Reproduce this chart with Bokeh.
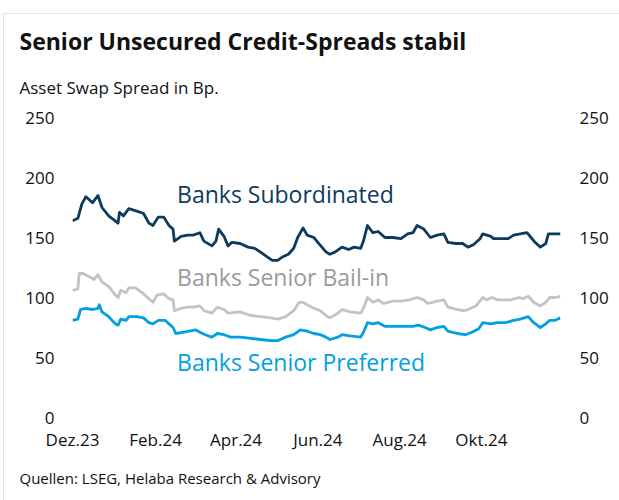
import pandas as pd
from bokeh.plotting import figure
from bokeh.models import Range1d, LinearAxis, FixedTicker, Label, Title
from bokeh.embed import file_html
from bokeh.resources import INLINE

# ---------------- data ----------------
start_date = "2023-12-01"
end_date = "2024-11-29"

sub_days = [0, 4, 7, 10, 15, 19, 22, 27, 34, 35, 38, 42, 48, 53, 57, 60, 64, 68, 72, 75,
            76, 81, 86, 90, 95, 98, 104, 107, 109, 113, 116, 119, 125, 131, 136, 140, 145, 149, 153, 157,
            161, 165, 168, 172, 175, 180, 183, 189, 192, 196, 201, 206, 210, 215, 217, 220, 224, 228, 233, 239,
            245, 250, 254, 257, 262, 267, 272, 277, 280, 286, 291, 295, 299, 304, 306, 312, 314, 319, 325, 329,
            334, 339, 342, 345, 349, 353, 355, 359, 364]
sub_vals = [164, 166, 178, 184, 179, 185, 175, 168, 162, 171, 168, 174, 172, 170, 162, 160, 167, 167, 160, 157,
            147, 151, 152, 152, 154, 147, 143, 147, 157, 151, 143, 146, 145, 142, 141, 138, 134, 131, 131, 134,
            136, 141, 150, 158, 152, 150, 146, 138, 136, 138, 142, 140, 142, 141, 147, 160, 154, 155, 150, 150,
            149, 153, 154, 160, 157, 150, 152, 153, 146, 145, 145, 142, 144, 149, 153, 151, 149, 149, 149, 152,
            153, 154, 150, 146, 142, 145, 153, 153, 153]

bail_days = [0, 4, 5, 8, 13, 16, 19, 22, 27, 32, 34, 36, 40, 42, 47, 52, 57, 60, 63, 68,
             72, 75, 76, 81, 86, 90, 95, 98, 104, 108, 113, 116, 125, 133, 140, 148, 153, 159, 165, 169,
             172, 175, 180, 185, 189, 192, 198, 201, 207, 215, 217, 220, 224, 228, 232, 239, 245, 251, 257, 262,
             265, 272, 277, 280, 287, 292, 295, 301, 306, 309, 313, 317, 321, 327, 333, 336, 340, 344, 349, 353,
             356, 360, 364]
bail_vals = [106, 107, 120, 120, 117, 115, 119, 113, 109, 102, 100, 106, 104, 108, 108, 104, 99, 96, 102, 103,
             99, 98, 89, 91, 92, 92, 93, 89, 87, 92, 90, 87, 88, 85, 84, 83, 82, 84, 89, 96,
             96, 94, 91, 89, 85, 83, 87, 90, 88, 87, 91, 100, 96, 98, 95, 97, 97, 98, 100, 98,
             95, 97, 98, 92, 90, 89, 90, 93, 100, 98, 100, 98, 98, 98, 100, 99, 101, 96, 93, 96,
             100, 100, 101]

pref_days = [0, 4, 6, 10, 15, 19, 20, 22, 27, 32, 34, 36, 40, 42, 48, 53, 57, 60, 64, 69,
             72, 75, 77, 82, 87, 92, 95, 99, 104, 108, 113, 118, 125, 133, 140, 148, 153, 159, 165, 170,
             175, 180, 185, 189, 192, 198, 201, 207, 215, 217, 220, 224, 228, 233, 239, 247, 254, 258, 263, 267,
             272, 277, 280, 287, 293, 298, 303, 306, 312, 317, 323, 329, 334, 340, 344, 349, 353, 356, 360, 364]
pref_vals = [81, 82, 90, 91, 90, 91, 94, 88, 84, 78, 77, 82, 81, 84, 84, 83, 79, 78, 81, 81,
             78, 75, 70, 71, 72, 73, 71, 69, 67, 70, 69, 67, 67, 66, 65, 64, 64, 67, 69, 73,
             72, 70, 69, 67, 65, 67, 69, 68, 67, 71, 79, 78, 79, 76, 76, 76, 76, 77, 75, 73,
             75, 76, 72, 70, 69, 71, 74, 79, 78, 79, 79, 81, 82, 84, 79, 75, 78, 81, 81, 83]

tick_dates = ["2023-12-01", "2024-02-01", "2024-04-01", "2024-06-01", "2024-08-01", "2024-10-01"]
tick_labels = ["Dez.23", "Feb.24", "Apr.24", "Jun.24", "Aug.24", "Okt.24"]
y_ticks = [0, 50, 100, 150, 200, 250]

series_names = ["Banks Subordinated", "Banks Senior Bail-in", "Banks Senior Preferred"]
title_text = "Senior Unsecured Credit-Spreads stabil"
subtitle_text = "Asset Swap Spread in Bp."
source_text = "Quellen: LSEG, Helaba Research & Advisory"

# ---------------- helpers ----------------
t0 = pd.Timestamp(start_date)


def ms(ts):
    return pd.Timestamp(ts).value / 1e6


def to_ms(days):
    return [(t0 + pd.Timedelta(days=d)).value / 1e6 for d in days]


NAVY = "#0c3b5e"
GREY = "#c3c3c3"
GREY_TXT = "#9b9b9b"
BLUE = "#00a0e2"
INK = "#111111"
FONT = "Open Sans"

p = figure(width=619, height=500, x_axis_type="datetime",
           x_range=Range1d(ms(start_date), ms(end_date)), y_range=Range1d(0, 250),
           output_backend="svg", toolbar_location=None, title=None,
           min_border_left=72, min_border_right=59, min_border_top=117, min_border_bottom=83)
p.outline_line_color = None
p.grid.visible = False
p.background_fill_color = "white"
p.border_fill_color = None
p.styles = {
    "background": "linear-gradient(#e3e3e3,#e3e3e3) 3px 13px / 1px 487px no-repeat, "
                  "linear-gradient(#e3e3e3,#e3e3e3) 3px 13px / 616px 1px no-repeat, white"
}

p.line(to_ms(bail_days), bail_vals, line_color=GREY, line_width=2.8, line_join="round")
p.line(to_ms(pref_days), pref_vals, line_color=BLUE, line_width=2.8, line_join="round")
p.line(to_ms(sub_days), sub_vals, line_color=NAVY, line_width=2.8, line_join="round")


def style_axis(ax):
    ax.axis_line_color = None
    ax.major_tick_line_color = None
    ax.minor_tick_line_color = None
    ax.major_label_text_font = FONT
    ax.major_label_text_font_size = "17px"
    ax.major_label_text_color = INK


# x axis
xa = p.xaxis[0]
style_axis(xa)
xa.ticker = FixedTicker(ticks=[ms(d) for d in tick_dates])
xa.major_label_overrides = {ms(d): l for d, l in zip(tick_dates, tick_labels)}
xa.major_label_standoff = 4

# left y axis
ya = p.yaxis[0]
style_axis(ya)
ya.ticker = FixedTicker(ticks=y_ticks)
ya.major_label_standoff = 12

# right y axis
yr = LinearAxis(ticker=FixedTicker(ticks=y_ticks))
style_axis(yr)
yr.major_label_standoff = 13
p.add_layout(yr, "right")

# series labels (anchored in data space)
lab_x = (t0 + pd.Timedelta(days=78)).value / 1e6
p.add_layout(Label(x=lab_x, y=186.5, text=series_names[0], text_font=FONT, text_font_size="23px",
                   text_color=NAVY, text_baseline="alphabetic"))
p.add_layout(Label(x=lab_x, y=117, text=series_names[1], text_font=FONT, text_font_size="23px",
                   text_color=GREY_TXT, text_baseline="alphabetic"))
p.add_layout(Label(x=lab_x, y=46, text=series_names[2], text_font=FONT, text_font_size="23px",
                   text_color=BLUE, text_baseline="alphabetic"))

# subtitle first (closest to frame), then title above it
p.add_layout(Title(text=subtitle_text, text_font=FONT, text_font_size="17px", text_font_style="normal",
                   text_color=INK, align="left", offset=-53, standoff=34, vertical_align="top",
                   text_line_height=1.46), "above")
p.add_layout(Title(text=title_text, text_font=FONT, text_font_size="23px", text_font_style="bold",
                   text_color=INK, align="left", offset=-53, standoff=0, vertical_align="top",
                   text_line_height=0.83), "above")
# source below the x axis
p.add_layout(Title(text=source_text, text_font=FONT, text_font_size="15px", text_font_style="normal",
                   text_color=INK, align="left", offset=-53, standoff=24), "below")

open("out.html", "w").write(file_html(p, INLINE))
